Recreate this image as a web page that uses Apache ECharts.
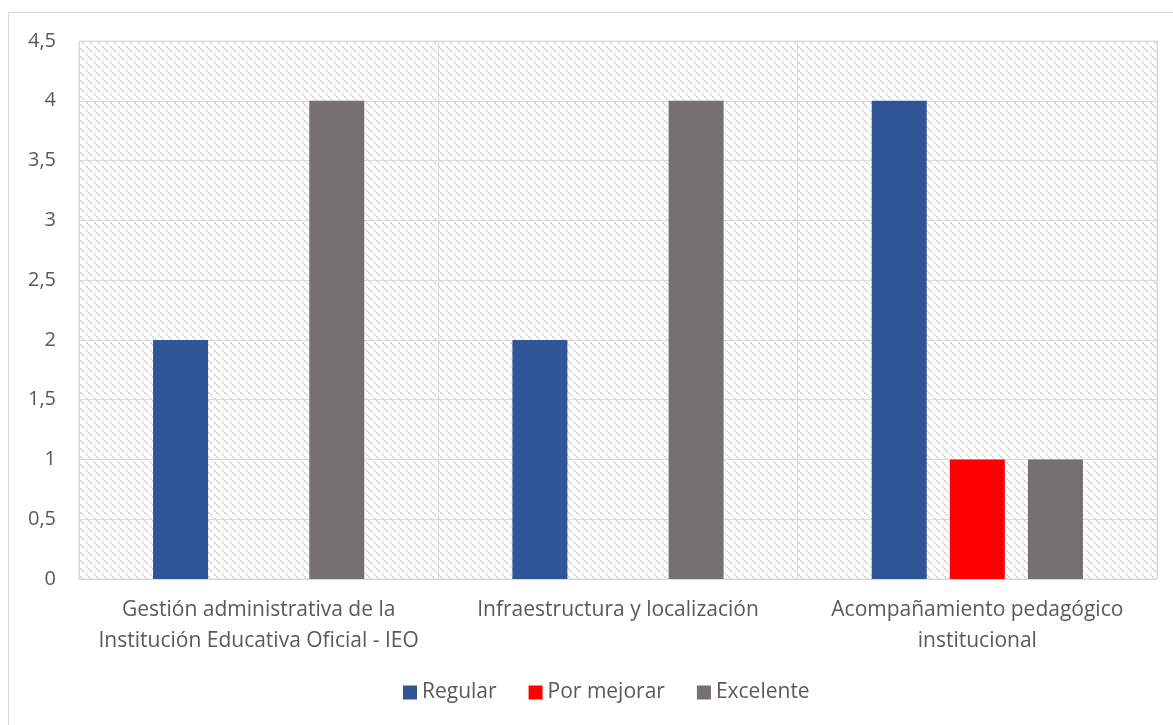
<!DOCTYPE html>
<html><head><meta charset="utf-8">
<script src="https://cdn.jsdelivr.net/npm/echarts@6/dist/echarts.min.js"></script>
<style>html,body{margin:0;padding:0;background:#fff}#c{width:1173px;height:725px}</style>
</head><body><div id="c"></div>
<script>
const categories = [
  "Gestión administrativa de la\nInstitución Educativa Oficial - IEO",
  "Infraestructura y localización",
  "Acompañamiento pedagógico\ninstitucional"
];
const seriesNames = ["Regular", "Por mejorar", "Excelente"];
const regular = [2, 2, 4];
const porMejorar = [0, 0, 1];
const excelente = [4, 4, 1];
const colors = ["#2F5597", "#FF0000", "#767171"];

// hatch pattern (2x2 blocks on a broken downward diagonal)
const pc = document.createElement('canvas');
pc.width = 8; pc.height = 8;
const px = pc.getContext('2d');
px.fillStyle = '#fff'; px.fillRect(0,0,8,8);
px.fillStyle = '#d9d9d9';
[[0,0],[2,2],[6,6]].forEach(([x,y]) => px.fillRect(x, y, 2, 2));
px.fillStyle = '#ececec';
px.fillRect(4, 4, 2, 2);

const font = "'Open Sans', sans-serif";
const chart = echarts.init(document.getElementById('c'), null, {renderer: 'canvas'});
const data = [regular, porMejorar, excelente];
chart.setOption({
  animation: false,
  textStyle: {fontFamily: font},
  graphic: [{type: 'rect', shape: {x: 8.5, y: 12.5, width: 1200, height: 800}, style: {fill: 'none', stroke: '#d9d9d9', lineWidth: 1}, silent: true, z: -10}],
  grid: {left: 79, right: 16, top: 41, bottom: 146, show: true, borderColor: '#d9d9d9', borderWidth: 1,
    backgroundColor: {image: pc, repeat: 'repeat'}},
  legend: {bottom: 17, left: 398, itemWidth: 14, itemHeight: 14, itemGap: 32, icon: 'rect',
    textStyle: {fontSize: 21, color: '#595959', fontFamily: font}, data: seriesNames},
  xAxis: {type: 'category', data: categories,
    axisLine: {lineStyle: {color: '#d9d9d9', width: 1}}, axisTick: {show: false},
    splitLine: {show: true, lineStyle: {color: '#d9d9d9', width: 1}},
    axisLabel: {interval: 0, fontSize: 21, color: '#595959', lineHeight: 31, margin: 16, fontFamily: font}},
  yAxis: {type: 'value', min: 0, max: 4.5, interval: 0.5,
    axisLine: {show: false}, axisTick: {show: false},
    splitLine: {lineStyle: {color: '#d9d9d9', width: 1}},
    axisLabel: {fontSize: 20, color: '#595959', margin: 23, fontFamily: font,
      formatter: v => String(v).replace('.', ',')}},
  series: seriesNames.map((n, i) => ({
    name: n, type: 'bar', data: data[i].map(v => v === 0 ? null : v),
    barWidth: 55, barGap: '42%', itemStyle: {color: colors[i]}
  }))
});
</script></body></html>
